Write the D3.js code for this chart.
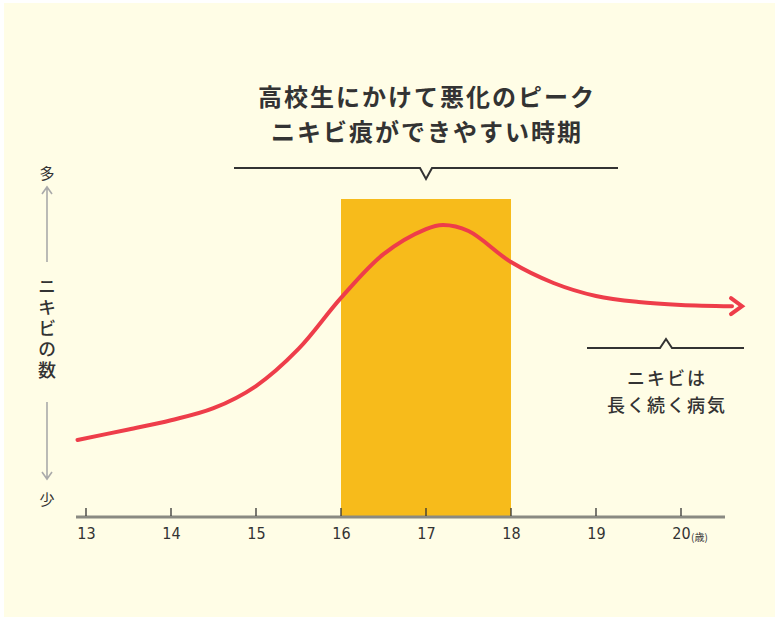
<!DOCTYPE html>
<html><head><meta charset="utf-8">
<script src="https://cdn.jsdelivr.net/npm/d3@7"></script>
<style>html,body{margin:0;padding:0;background:#fff;}svg{display:block;}</style>
</head><body>
<div id="chart"></div>
<script>
const years = [12.9,13.5,14.0,14.5,15.0,15.5,16.0,16.5,17.0,17.2,17.5,18.0,18.5,19.0,19.5,20.0,20.6];
const acneLevel = [24.0,27.3,30.2,34.0,41.0,52.7,68.8,82.6,90.5,91.8,89.9,80.1,73.5,69.4,67.5,66.6,66.2];
const tickYears = [13,14,15,16,17,18,19,20];
const tickLabels = ["13","14","15","16","17","18","19","20"];
const peakRange = [16,18];
const titleLines = ["高校生にかけて悪化のピーク","ニキビ痕ができやすい時期"];
const noteLines = ["ニキビは","長く続く病気"];
const yLabel = "ニキビの数";

const W = 775, H = 617;
const svg = d3.select("#chart").append("svg").attr("width", W).attr("height", H);
svg.append("rect").attr("width", W).attr("height", H).attr("fill", "#fff");
svg.append("rect").attr("x", 4).attr("y", 3).attr("width", W-4).attr("height", H-3).attr("fill", "#fffde6");

const x = d3.scaleLinear().domain([13,20]).range([86,681]);
const y = d3.scaleLinear().domain([0,100]).range([516,199]);
const font = "'Noto Sans CJK JP','Noto Sans',sans-serif";

// peak band
svg.append("rect").attr("x", x(peakRange[0])).attr("y", y(100))
  .attr("width", x(peakRange[1]) - x(peakRange[0])).attr("height", y(0) - y(100))
  .attr("fill", "#f7bb1b");

// axis
const axis = d3.axisBottom(x).tickValues(tickYears).tickFormat((d,i)=>tickLabels[i]).tickSize(0).tickPadding(12);
const gAx = svg.append("g").attr("transform", `translate(0,${y(0)})`).call(axis);
gAx.select(".domain").remove();
gAx.selectAll("text").attr("font-family", "'Liberation Sans Narrow','DejaVu Sans Condensed',sans-serif").attr("font-size", 16).attr("fill", "#333");
svg.append("line").attr("x1", 76).attr("x2", 725).attr("y1", y(0)+1).attr("y2", y(0)+1)
  .attr("stroke", "#8a8a82").attr("stroke-width", 3);
svg.selectAll(".tk").data(tickYears).enter().append("line")
  .attr("x1", d=>x(d)).attr("x2", d=>x(d)).attr("y1", y(0)-8).attr("y2", y(0))
  .attr("stroke", "#333").attr("stroke-width", 1.3);
svg.append("text").attr("x", x(20)+10).attr("y", y(0)+25).attr("font-size", 10).attr("font-family", font).attr("fill", "#333").text("(歳)");

// curve
const pts = years.map((d,i)=>[d, acneLevel[i]]);
const line = d3.line().x(d=>x(d[0])).y(d=>y(d[1])).curve(d3.curveCatmullRom.alpha(0.5));
svg.append("path").attr("d", line(pts)).attr("fill", "none").attr("stroke", "#ee3d4a")
  .attr("stroke-width", 4).attr("stroke-linecap", "round");
const last = pts[pts.length-1];
const ax = x(last[0]), ay = y(last[1]);
svg.append("path").attr("d", `M${ax-1},${ay-8} L${ax+10},${ay} L${ax-1},${ay+8}`)
  .attr("fill", "none").attr("stroke", "#ee3d4a").attr("stroke-width", 4).attr("stroke-linejoin", "miter").attr("stroke-linecap", "round");

// title
svg.selectAll(".title").data(titleLines).enter().append("text")
  .attr("x", 427).attr("y", (d,i)=>106+i*35).attr("text-anchor", "middle")
  .attr("font-family", font).attr("font-weight", 700).attr("font-size", 24).attr("fill", "#333")
  .attr("letter-spacing", 2)
  .text(d=>d);
svg.append("path").attr("d", "M234,168 L420,168 L426,179 L432,168 L618,168")
  .attr("fill", "none").attr("stroke", "#333").attr("stroke-width", 2);

// right note
svg.append("path").attr("d", "M587,348 L660,348 L666,339 L672,348 L744,348")
  .attr("fill", "none").attr("stroke", "#333").attr("stroke-width", 2);
svg.selectAll(".note").data(noteLines).enter().append("text")
  .attr("x", 667).attr("y", (d,i)=>385+i*27).attr("text-anchor", "middle")
  .attr("font-family", font).attr("font-weight", 500).attr("font-size", 18).attr("fill", "#333")
  .attr("letter-spacing", 2)
  .text(d=>d);

// left vertical label
const lx = 47;
svg.append("text").attr("x", lx).attr("y", 179).attr("text-anchor", "middle").attr("font-family", font).attr("font-size", 15).attr("fill", "#333").text("多");
svg.append("text").attr("x", lx).attr("y", 505).attr("text-anchor", "middle").attr("font-family", font).attr("font-size", 15).attr("fill", "#333").text("少");
svg.append("path").attr("d", `M${lx},187 L${lx},262 M${lx-5},194 L${lx},187 L${lx+5},194`).attr("fill","none").attr("stroke","#aaa").attr("stroke-width",1.6);
svg.append("path").attr("d", `M${lx},402 L${lx},479 M${lx-5},472 L${lx},479 L${lx+5},472`).attr("fill","none").attr("stroke","#aaa").attr("stroke-width",1.6);
svg.append("text").attr("x", lx).attr("y", 330)
  .attr("writing-mode", "vertical-rl").style("text-orientation", "upright")
  .attr("text-anchor", "middle").attr("dominant-baseline", "central")
  .attr("letter-spacing", 3)
  .attr("font-family", font).attr("font-weight", 500).attr("font-size", 18).attr("fill", "#333")
  .text(yLabel);
</script>
</body></html>
